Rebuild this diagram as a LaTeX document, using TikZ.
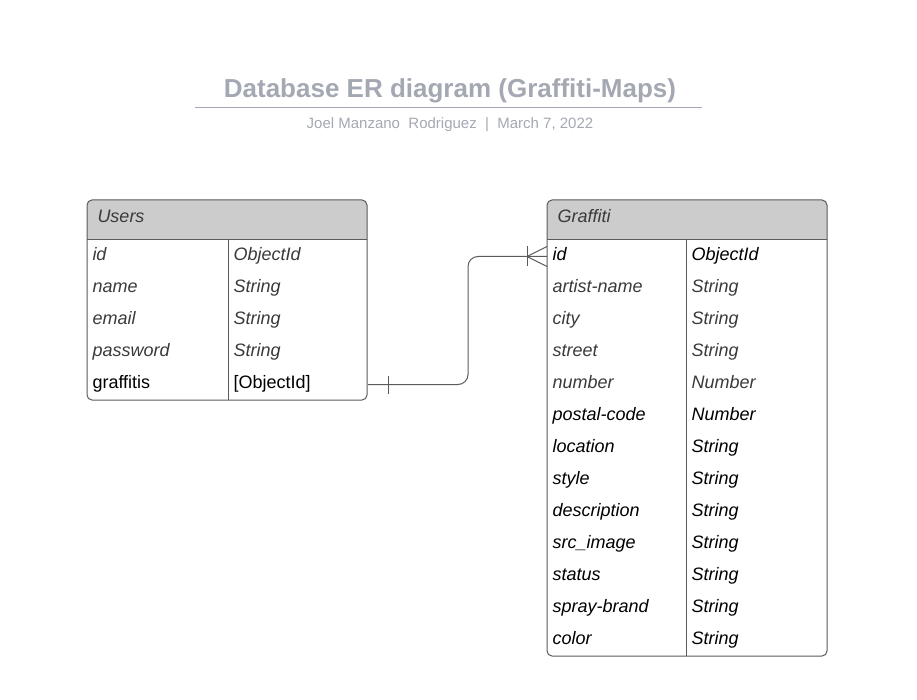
\documentclass[tikz,border=0pt]{standalone}
\usepackage{fontspec}
\setmainfont{Liberation Sans}
\usetikzlibrary{positioning}
\definecolor{titlegray}{RGB}{163,168,178}
\definecolor{headgray}{RGB}{204,204,204}
\definecolor{linegray}{RGB}{90,90,90}
\definecolor{fieldgray}{RGB}{58,58,58}
\tikzset{
  every path/.style={line width=1pt},
  row/.style={minimum width=280pt,minimum height=32pt,inner sep=0pt,anchor=north west},
  cell/.style={anchor=base west,inner sep=0pt,font=\fontsize{18}{21}\selectfont},
  fg/.style={text=fieldgray,font=\fontsize{18}{21}\selectfont\itshape},
  fb/.style={text=black,font=\fontsize{18}{21}\selectfont\itshape},
  fu/.style={text=black},
}
% name, x, title, number of rows, divider offset
\newcommand\ertable[5]{
  \pgfmathsetmacro\tablebottom{240+32*#4}
  \fill[headgray,rounded corners=5pt] (#2,200) rectangle ++(280,40);
  \fill[headgray] (#2,220) rectangle ++(280,20);
  \draw[linegray,rounded corners=5pt] (#2,200) rectangle (#2+280,\tablebottom);
  \draw[linegray] (#2,240) -- ++(280,0);
  \draw[linegray] (#2+#5,240) -- (#2+#5,\tablebottom);
  \node[cell,fg] (#1-head) at (#2+10,223) {#3};
}
% table, row, x, field, type, style, type offset
\newcommand\erfield[7]{
  \node[row] (#1-#2) at (#3,208+32*#2) {};
  \node[cell,#6] (#1-#2-name) at ([xshift=5pt,yshift=-4pt]#1-#2.west) {#4};
  \node[cell,#6] (#1-#2-type) at ([xshift=#7pt,yshift=-4pt]#1-#2.west) {#5};
}

\begin{document}
\begin{tikzpicture}[x=1pt,y=-1pt]
  \useasboundingbox (0,0) rectangle (917,700);
  %
  \node[anchor=base,text=titlegray,font=\fontsize{26}{30}\selectfont\bfseries] (title) at (450,98) {Database ER diagram (Graffiti-Maps)};
  \draw[titlegray,line width=1.8pt] (195,107.5) -- (702,107.5);
  \node[anchor=base,text=titlegray,font=\fontsize{15}{18}\selectfont] (author) at (450,128.5) {Joel Manzano\ \ Rodriguez\ \ |\ \ March 7, 2022};

  \ertable{users}{87}{Users}{5}{141}
  \foreach \fname/\ftype/\fst [count=\i] in {id/ObjectId/fg,name/String/fg,email/String/fg,password/String/fg,graffitis/[ObjectId]/fu} {
    \erfield{users}{\i}{87}{\fname}{\ftype}{\fst}{146}
  }

  \ertable{graffiti}{547}{Graffiti}{13}{139}
  \foreach \fname/\ftype/\fst [count=\i] in {id/ObjectId/fb,artist-name/String/fg,city/String/fg,street/String/fg,number/Number/fg,postal-code/Number/fb,location/String/fb,style/String/fb,description/String/fb,src\_image/String/fb,status/String/fb,spray-brand/String/fb,color/String/fb} {
    \erfield{graffiti}{\i}{547}{\fname}{\ftype}{\fst}{144}
  }

  % one user, many graffiti
  \draw[linegray,rounded corners=10pt] (users-5.east) -- ++(100,0) |- (graffiti-1.west);
  \draw[linegray] ([xshift=20pt,yshift=9pt]users-5.east) -- ++(0,18);
  \draw[linegray] ([xshift=-20pt,yshift=10pt]graffiti-1.west) -- ++(0,20);
  \draw[linegray] (graffiti-1.west) ++(0,-10) -- ++(-20,10) -- ++(20,10);

\end{tikzpicture}
\end{document}
